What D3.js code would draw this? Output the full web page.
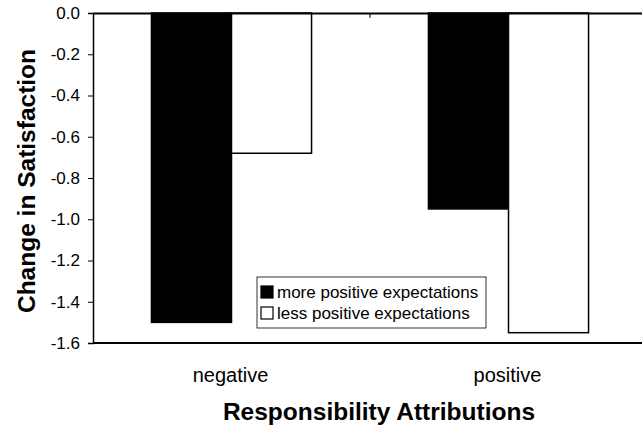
<!DOCTYPE html>
<html>
  <head>
    <meta charset="utf-8">
    <style>
      body {
          margin: 0;
          background: #fff;
          font-family: Arial, "Liberation Sans", sans-serif;
      }
      .tick text { font-size: 17px; fill: #000; }
      .cat { font-size: 20px; }
      .title { font-size: 24.5px; font-weight: bold; }
      .legend text { font-size: 17px; }
    </style>
  </head>
  <body>
    <script src="https://d3js.org/d3.v7.min.js"></script>
    <script>
      // data
      var categories = ["negative", "positive"];
      var series = ["more positive expectations", "less positive expectations"];
      var moreValues = [-1.50, -0.95];
      var lessValues = [-0.68, -1.55];
      var yTicks = [0, -0.2, -0.4, -0.6, -0.8, -1.0, -1.2, -1.4, -1.6];
      var fills = ["#000", "#fff"];

      var width = 642, height = 427;
      var margin = {top: 13, left: 93, bottom: 84, right: -5};

      var svg = d3.select("body").append("svg")
          .attr("width", width)
          .attr("height", height);

      var y = d3.scaleLinear()
          .domain([0, -1.6])
          .range([margin.top, height - margin.bottom]);

      var x0 = d3.scaleBand()
          .domain(categories)
          .range([margin.left, width - margin.right]);

      var x1 = d3.scaleBand()
          .domain(series)
          .range([0, x0.bandwidth()])
          .paddingOuter(0.73);

      var rows = categories.map(function(c, i) {
          return {cat: c, vals: [moreValues[i], lessValues[i]]};
      });

      // bars
      var g = svg.append("g").selectAll("g")
          .data(rows)
          .enter().append("g")
          .attr("transform", function(d) { return "translate(" + x0(d.cat) + ",0)"; });

      g.selectAll("rect")
          .data(function(d) { return d.vals.map(function(v, j) { return {s: series[j], v: v, j: j}; }); })
          .enter().append("rect")
          .attr("x", function(d) { return x1(d.s); })
          .attr("y", y(0))
          .attr("width", x1.bandwidth())
          .attr("height", function(d) { return y(d.v) - y(0); })
          .style("fill", function(d) { return fills[d.j]; })
          .style("stroke", "#000")
          .style("stroke-width", 1.5);

      // y axis
      var yAxis = svg.append("g")
          .attr("transform", "translate(" + margin.left + ",0)")
          .call(d3.axisLeft(y).tickValues(yTicks).tickSize(5).tickPadding(8));
      yAxis.select(".domain").style("stroke-width", 1.5);
      yAxis.selectAll(".tick line").style("stroke-width", 1);
      yAxis.selectAll(".tick text").text(function(d) { return d === 0 ? "0.0" : d.toFixed(1); });

      // x axis on zero line with inward category ticks
      var xAxis = svg.append("g")
          .attr("transform", "translate(0," + y(0) + ")")
          .call(d3.axisBottom(x0).tickSize(0).tickFormat(""));
      xAxis.select(".domain").style("stroke-width", 2);
      xAxis.append("line")
          .attr("x1", x0("positive")).attr("x2", x0("positive"))
          .attr("y1", 0).attr("y2", 5)
          .style("stroke", "#000");

      // bottom border of plot
      svg.append("line")
          .attr("x1", margin.left).attr("x2", width)
          .attr("y1", y(-1.6)).attr("y2", y(-1.6))
          .style("stroke", "#000")
          .style("stroke-width", 2);

      // category labels
      svg.selectAll(".cat")
          .data(categories)
          .enter().append("text")
          .attr("class", "cat")
          .attr("x", function(d) { return x0(d) + x1.paddingOuter() * x1.step() + x1.step() - 1; })
          .attr("y", 382)
          .attr("text-anchor", "middle")
          .text(function(d) { return d; });

      // axis titles
      svg.append("text")
          .attr("class", "title")
          .attr("x", 379)
          .attr("y", 420)
          .attr("text-anchor", "middle")
          .text("Responsibility Attributions");

      svg.append("text")
          .attr("class", "title")
          .attr("transform", "translate(35," + 181 + ") rotate(-90)")
          .attr("text-anchor", "middle")
          .text("Change in Satisfaction");

      // legend
      var legend = svg.append("g")
          .attr("class", "legend")
          .attr("transform", "translate(257,277)");
      legend.append("rect")
          .attr("width", 229).attr("height", 51)
          .style("fill", "#fff")
          .style("stroke", "#000")
          .style("stroke-width", 0.8);
      var item = legend.selectAll(".item")
          .data(series)
          .enter().append("g")
          .attr("class", "item")
          .attr("transform", function(d, i) { return "translate(4," + (9 + i * 21) + ")"; });
      item.append("rect")
          .attr("width", 12).attr("height", 12)
          .style("fill", function(d, i) { return fills[i]; })
          .style("stroke", "#000")
          .style("stroke-width", 1.2);
      item.append("text")
          .attr("x", 16)
          .attr("y", 12)
          .text(function(d) { return d; });
    </script>
  </body>
</html>
